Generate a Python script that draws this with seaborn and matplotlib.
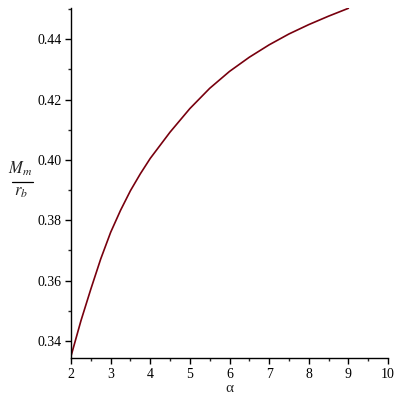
import numpy as np
import pandas as pd
import matplotlib
matplotlib.use("Agg")
import matplotlib.pyplot as plt
from matplotlib.ticker import MultipleLocator
from matplotlib.lines import Line2D
import seaborn as sns

alpha = [2.0, 2.25, 2.5, 2.75, 3.0, 3.25, 3.5, 3.75, 4.0, 4.5, 5.0, 5.5, 6.0, 6.5,
         7.0, 7.5, 8.0, 8.5, 9.0]
ratio = [0.3350, 0.3467, 0.3572, 0.3672, 0.3760, 0.3833, 0.3898, 0.3954, 0.4005,
         0.4092, 0.4170, 0.4237, 0.4293, 0.4340, 0.4381, 0.4417, 0.4448, 0.4476, 0.4502]
x_ticks = [2, 3, 4, 5, 6, 7, 8, 9, 10]
y_ticks = [0.34, 0.36, 0.38, 0.40, 0.42, 0.44]
y_tick_labels = ["0.34", "0.36", "0.38", "0.40", "0.42", "0.44"]

sns.set_style("ticks")
plt.rcParams['font.family'] = ['Liberation Serif', 'DejaVu Serif']
plt.rcParams['mathtext.fontset'] = 'stix'

df = pd.DataFrame({"alpha": alpha, "ratio": ratio})

fig = plt.figure(figsize=(4, 4), dpi=100)
ax = fig.add_axes([0.1775, 0.105, 0.7925, 0.875])
sns.lineplot(data=df, x="alpha", y="ratio", ax=ax, color="#78000E", linewidth=1.2)

ax.set_xlim(2, 10)
ax.set_ylim(0.3344, 0.4503)
ax.set_xticks(x_ticks)
ax.set_yticks(y_ticks)
ax.set_yticklabels(y_tick_labels)
ax.xaxis.set_minor_locator(MultipleLocator(0.5))
ax.yaxis.set_minor_locator(MultipleLocator(0.01))
ax.tick_params(which="major", length=4, width=1, labelsize=10, colors="black", pad=3)
ax.tick_params(which="minor", length=2.5, width=1)
for s in ["top", "right"]:
    ax.spines[s].set_visible(False)
for s in ["left", "bottom"]:
    ax.spines[s].set_linewidth(1)
    ax.spines[s].set_color("black")

ax.set_xlabel("α", fontsize=11, labelpad=1)
ax.set_ylabel("")

# y-axis label drawn as a stacked fraction M_m / r_b
fig.text(20 / 400, 1 - 168.5 / 400, r"$M_m$", fontsize=12, ha="center", va="center")
fig.text(21 / 400, 1 - 191.5 / 400, r"$r_b$", fontsize=12, ha="center", va="center")
fig.add_artist(Line2D([12.3 / 400, 33.3 / 400], [1 - 182.3 / 400] * 2,
                      color="black", linewidth=0.9, transform=fig.transFigure))

fig.savefig("out.png", dpi=100)
